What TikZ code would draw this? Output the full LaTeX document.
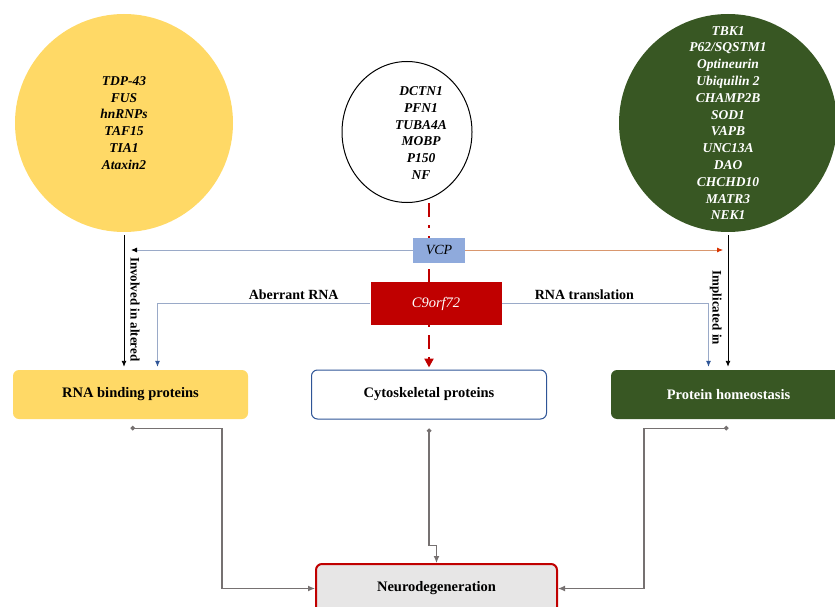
\documentclass[tikz,border=0pt]{standalone}
\usepackage{fontspec}
\setmainfont{Liberation Serif}
\usetikzlibrary{arrows.meta,shapes.geometric}
\definecolor{ylw}{HTML}{FFD966}
\definecolor{dkgreen}{HTML}{385723}
\definecolor{vcpblue}{HTML}{8FAADC}
\definecolor{c9red}{HTML}{C00000}
\definecolor{cytblue}{HTML}{2F5597}
\definecolor{linkblue}{HTML}{9AAAC8}
\definecolor{linkorange}{HTML}{D9976E}
\definecolor{feedgray}{HTML}{767171}
\definecolor{neugray}{HTML}{E7E6E6}
\begin{document}
\begin{tikzpicture}[x=1pt,y=-1pt,
  gene/.style={circle,minimum size=218pt,inner sep=0pt,align=center,font=\fontsize{13.5}{16.8}\selectfont\bfseries\itshape},
  box/.style={rectangle,rounded corners=6pt,minimum width=235pt,minimum height=49pt,font=\fontsize{14.5}{17}\selectfont\bfseries},
  lbl/.style={font=\fontsize{14}{16}\selectfont\bfseries},
  side/.style={rotate=-90,inner sep=6pt,font=\fontsize{13}{15}\selectfont\bfseries},
  down/.style={draw=black,line width=0.9pt,shorten <=3pt,shorten >=3pt,-{Latex[length=6pt,width=5pt]}},
  rnal/.style={draw=linkblue,line width=0.8pt,shorten >=3pt,-{Latex[length=6pt,width=5pt,color=cytblue]}},
  feed/.style={draw=feedgray,line width=1.2pt,{Circle[length=4.5pt]}-{Latex[length=7pt,width=6pt]}}]
\def\gap{9pt}
\useasboundingbox (0,0) rectangle (835,607);
% gene circles
\node[gene,fill=ylw] (rbpc) at (124,123) {TDP-43\\FUS\\hnRNPs\\TAF15\\TIA1\\Ataxin2};
\node[ellipse,draw,line width=1pt,minimum width=130pt,minimum height=141pt] (cytc) at (407,132) {};
\node[align=center,font=\fontsize{13.5}{16.8}\selectfont\bfseries\itshape] (cytg) at (421,133) {DCTN1\\PFN1\\TUBA4A\\MOBP\\P150\\NF};
\node[gene,fill=dkgreen,text=white] (phc) at (728,123) {TBK1\\P62/SQSTM1\\Optineurin\\Ubiquilin 2\\CHAMP2B\\SOD1\\VAPB\\UNC13A\\DAO\\CHCHD10\\MATR3\\NEK1};
% protein groups
\node[box,fill=ylw] (rbp) at (130.5,394.5) {RNA binding proteins};
\node[box,draw=cytblue,fill=white,line width=1pt] (cyt) at (429,394.5) {Cytoskeletal proteins};
\node[box,fill=dkgreen,text=white] (ph) at (728.5,394.5) {Protein homeostasis};
\node[box,fill=neugray,draw=c9red,line width=2pt,minimum width=241pt] (neu) at (436.5,588.5) {Neurodegeneration};
% red dash-dot link
\draw[c9red,line width=2.8pt,dash pattern=on 14pt off 8pt on 3pt off 8pt,shorten >=2pt,
  -{Triangle[length=9pt,width=9pt]}] (cyt.north |- cytc.south) -- (cyt.north);
\node[fill=vcpblue,minimum width=52pt,minimum height=25pt,font=\fontsize{14}{16}\selectfont\itshape] (vcp) at (439,250) {VCP};
\node[fill=c9red,text=white,minimum width=131pt,minimum height=43pt,font=\fontsize{14.5}{16}\selectfont\itshape] (c9) at (436,303.5) {C9orf72};
\coordinate (vcpw) at (131,250);
\coordinate (vcpe) at (723,250);
\draw[draw=linkblue,line width=0.8pt,-{Latex[length=6pt,width=5pt,color=black]}] (vcp.west) -- (vcpw);
\draw[draw=linkorange,line width=0.8pt,-{Latex[length=6pt,width=5pt,color=c9red!60!orange]}] (vcp.east) -- (vcpe);
% circles to groups
\draw[down] (rbpc.south) -- (rbpc.south |- rbp.north) node[side,pos=0.56,anchor=south] {Involved in altered};
\draw[down] (phc.south) -- (phc.south |- ph.north) node[side,pos=0.55,anchor=north] {Implicated in};
\draw[rnal] (c9.west) -| ([xshift=27pt]rbp.north) node[pos=0.18,above,lbl] {Aberrant RNA};
\draw[rnal] (c9.east) -| ([xshift=-20pt]ph.north) node[pos=0.2,above,lbl] {RNA translation};
% groups to neurodegeneration
\draw[feed] ([yshift=-\gap]rbp.south) -| ([xshift=-93pt]neu.west) -- (neu.west);
\draw[feed] ([yshift=-\gap]cyt.south) -- ++(0,117) -| (neu.north);
\draw[feed] ([yshift=-\gap]ph.south) -| ([xshift=86pt]neu.east) -- (neu.east);
\end{tikzpicture}
\end{document}
